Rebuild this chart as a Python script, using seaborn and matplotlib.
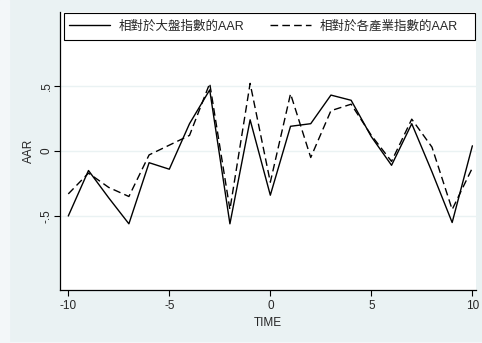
import numpy as np
import pandas as pd
import matplotlib
matplotlib.use("Agg")
import matplotlib.pyplot as plt
import seaborn as sns

# event window
time = list(range(-10, 11))

# AAR relative to market index
aar_market = [-0.50, -0.15, -0.36, -0.56, -0.09, -0.14, 0.21, 0.47, -0.56, 0.24,
              -0.34, 0.19, 0.21, 0.43, 0.39, 0.11, -0.11, 0.21, -0.16, -0.55, 0.04]
# AAR relative to industry index
aar_industry = [-0.33, -0.17, -0.28, -0.35, -0.03, 0.045, 0.12, 0.52, -0.45, 0.52,
                -0.24, 0.44, -0.05, 0.31, 0.36, 0.12, -0.08, 0.245, 0.03, -0.45, -0.13]

labels = ["相對於大盤指數的AAR", "相對於各產業指數的AAR"]
yticks = [-0.5, 0, 0.5]
yticklabels = ["-.5", "0", ".5"]
xticks = [-10, -5, 0, 5, 10]

df = pd.DataFrame({
    "TIME": time * 2,
    "AAR": aar_market + aar_industry,
    "series": [labels[0]] * len(time) + [labels[1]] * len(time),
})

sns.set_style("white")
plt.rcParams["font.family"] = ["Liberation Sans", "Noto Sans CJK TC", "DejaVu Sans"]

bg = "#EAF2F3"
W, H = 482, 343
fig = plt.figure(figsize=(W / 100, H / 100), dpi=100)
fig.patch.set_facecolor(bg)
# lighter outer margin like the Stata export
fig.patches.append(plt.Rectangle((0, 0), 9 / W, 1, transform=fig.transFigure,
                                 color="#F3F7F9", zorder=0))
fig.patches.append(plt.Rectangle((0, 0), 1, 1.5 / H, transform=fig.transFigure,
                                 color="#F3F7F9", zorder=0))

ax = fig.add_axes([60 / W, (H - 290) / H, 416 / W, 278 / H])
ax.set_facecolor("white")

sns.lineplot(data=df, x="TIME", y="AAR", hue="series", style="series",
             palette=["black", "black"], dashes=["", (5.5, 3)],
             linewidth=1.0, ax=ax, legend=False)

ax.set_xlim(-10.41, 10.18)
ax.set_ylim(-1.069, 1.069)
ax.set_xticks(xticks)
ax.set_xticklabels([str(t) for t in xticks], fontsize=8.5)
ax.set_yticks(yticks)
ax.set_yticklabels(yticklabels, fontsize=8.5, rotation=90, va="center")
ax.tick_params(axis="x", direction="out", length=4, width=0.8, color="black",
               bottom=True, pad=3.5)
ax.tick_params(axis="y", direction="out", length=4, width=0.8, color="black",
               left=True, pad=1.2)
ax.yaxis.grid(True, color=bg, linewidth=1.0)
ax.set_axisbelow(True)

for side in ["top", "right"]:
    ax.spines[side].set_visible(False)
for side in ["left", "bottom"]:
    ax.spines[side].set_color("black")
    ax.spines[side].set_linewidth(0.9)

ax.set_xlabel("TIME", fontsize=8.5, labelpad=3)
ax.set_ylabel("AAR", fontsize=8.5, labelpad=4)

# legend box (Stata-style, spanning the plot width)
fig.patches.append(plt.Rectangle((64 / W, (H - 39.5) / H), 411 / W, 26.5 / H,
                                 transform=fig.transFigure, fill=False,
                                 edgecolor="black", linewidth=0.8, zorder=5))
handles = [plt.Line2D([], [], color="black", lw=1.0),
           plt.Line2D([], [], color="black", lw=1.0, dashes=(5.5, 3))]
leg = fig.legend(handles, labels, loc="center left", ncol=2,
                 bbox_to_anchor=(69 / W, (H - 26.5) / H),
                 fontsize=9, frameon=False, borderpad=0, borderaxespad=0,
                 handlelength=3.3, handletextpad=0.7, columnspacing=2.0)

fig.savefig("out.png", dpi=100, facecolor=fig.get_facecolor())
